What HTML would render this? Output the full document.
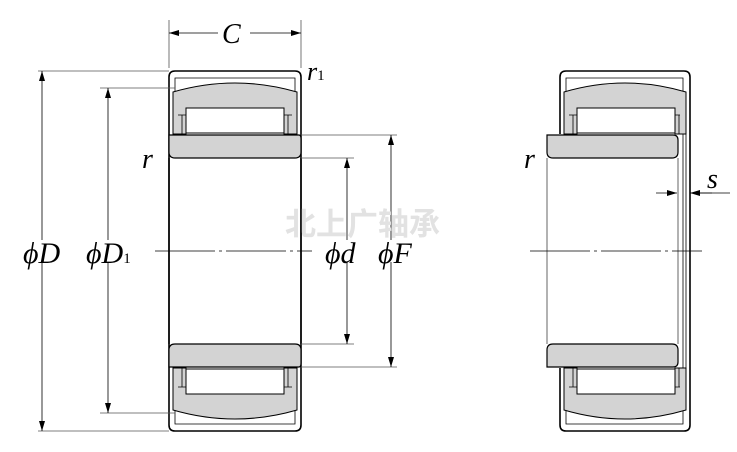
<!DOCTYPE html>
<html><head><meta charset="utf-8"><style>
html,body{margin:0;padding:0;background:#fff;width:737px;height:452px;overflow:hidden}
svg{display:block}
text{font-family:"Liberation Serif",serif;font-style:italic;fill:#000}
</style></head><body>
<svg width="737" height="452" viewBox="0 0 737 452" xmlns="http://www.w3.org/2000/svg">
<defs>
<marker id="a" viewBox="0 0 10 6" refX="10" refY="3" markerWidth="10" markerHeight="6" orient="auto-start-reverse" markerUnits="userSpaceOnUse"><path d="M0,0L10,3L0,6z" fill="#000"/></marker>
<g id="L">
 <path d="M169,251V77q0,-6 6,-6H295q6,0 6,6V251" fill="none" stroke="#000" stroke-width="1.6"/>
 <path d="M175,134V78H295V134" fill="none" stroke="#000" stroke-width="0.8"/>
 <path d="M173,134V92Q235,74 297,92V134H284V108H186V134Z" fill="#d3d3d3" stroke="#000" stroke-width="1"/>
 <rect x="186" y="108" width="98" height="25" fill="#fff" stroke="#000" stroke-width="1"/>
 <path d="M178,115H186M284,115H292" stroke="#000" stroke-width="0.8"/>
 <path d="M182,115V134M288,115V134" stroke="#000" stroke-width="0.8"/>
 <path d="M169,135H299q2,0 2,4V152q0,6 -6,6H175q-6,0 -6,-6Z" fill="#d3d3d3" stroke="#000" stroke-width="1.2"/>
 <path d="M301,251V158M169,251V158" stroke="#000" stroke-width="1.4"/>
</g>
<g id="R">
 <path d="M560,134V77q0,-6 6,-6H684q6,0 6,6V251" fill="none" stroke="#000" stroke-width="1.6"/>
 <path d="M566,134V78H683V251M686,95V251" fill="none" stroke="#000" stroke-width="0.8"/>
 <path d="M564,134V92Q625,74 686,92V134H675V108H577V134Z" fill="#d3d3d3" stroke="#000" stroke-width="1"/>
 <rect x="577" y="108" width="98" height="25" fill="#fff" stroke="#000" stroke-width="1"/>
 <path d="M569,115H577M675,115H680M573,115V134M679,115V134" stroke="#000" stroke-width="0.8"/>
 <path d="M547,135H673q5,0 5,5V152q0,6 -6,6H553q-6,0 -6,-6Z" fill="#d3d3d3" stroke="#000" stroke-width="1.2"/>
 <path d="M678,251V158M547,251V158" stroke="#666" stroke-width="1"/>
</g>
</defs>
<use href="#L"/><use href="#L" transform="matrix(1,0,0,-1,0,502)"/>
<use href="#R"/><use href="#R" transform="matrix(1,0,0,-1,0,502)"/>
<g stroke="#555" stroke-width="0.8" fill="none">
 <path d="M169,68V20M301,68V20"/>
 <path d="M38,71H169M38,431H169M100,88H175M100,413H175"/>
 <path d="M301,135H397M301,367H397M301,158H354M301,344H354"/>
</g>
<g stroke="#000" stroke-width="0.8" fill="none">
 <path d="M169,33H218M250,33H301" marker-start="url(#a)" marker-end="url(#a)"/>
 <path d="M42,71V240M42,262V431" marker-start="url(#a)" marker-end="url(#a)"/>
 <path d="M108,88V240M108,262V413" marker-start="url(#a)" marker-end="url(#a)"/>
 <path d="M347,158V240M347,262V344" marker-start="url(#a)" marker-end="url(#a)"/>
 <path d="M391,135V240M391,262V367" marker-start="url(#a)" marker-end="url(#a)"/>
 <path d="M656,193H677" marker-end="url(#a)"/><path d="M712,193H690" marker-end="url(#a)"/>
 <path d="M690,193H730"/>
 <path d="M155,251H312" stroke-dasharray="60,4,3,4"/>
 <path d="M530,251H702" stroke-dasharray="60,4,3,4"/>
</g>
<text x="222" y="43" font-size="28">C</text>
<text x="307" y="80" font-size="26">r<tspan font-size="15" style="font-style:normal">1</tspan></text>
<text x="142" y="168" font-size="28">r</text>
<text x="524" y="168" font-size="28">r</text>
<text x="707" y="188" font-size="28">s</text>
<text x="23" y="263" font-size="30">ϕD</text>
<text x="86" y="263" font-size="30">ϕD<tspan font-size="15" style="font-style:normal">1</tspan></text>
<text x="325" y="263" font-size="30">ϕd</text>
<text x="378" y="263" font-size="30">ϕF</text>
<text x="285" y="235" font-size="31" font-weight="bold" style="font-family:'Noto Sans CJK SC',sans-serif;font-style:normal;fill:#e2e2e2">北上广轴承</text>
</svg>
</body></html>
